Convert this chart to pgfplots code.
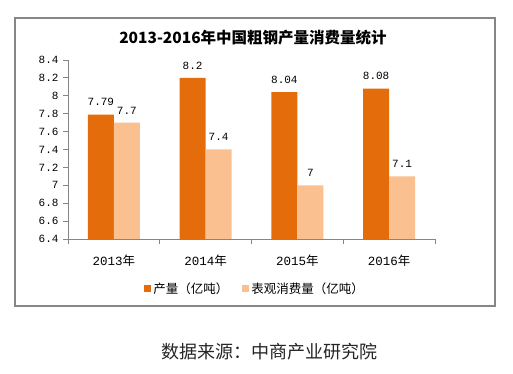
\documentclass[border=0pt]{standalone}
\usepackage{pgfplots}
\pgfplotsset{compat=1.18}
\usepackage{fontspec}
\setmainfont{Noto Sans CJK SC}
\newfontfamily\cjk{Noto Sans CJK SC}
\newfontfamily\num{Liberation Mono}
\definecolor{dark}{HTML}{E46C0A}
\definecolor{light}{HTML}{FAC090}
\definecolor{axgray}{HTML}{868686}
\begin{document}
\begin{tikzpicture}[x=1pt,y=1pt]
\useasboundingbox (0,0) rectangle (513,374);
\fill[white] (0,0) rectangle (513,374);
\node[font=\cjk\bfseries\fontsize{15.5}{15.5}\selectfont] at (253,336) {2013-2016年中国粗钢产量消费量统计};
\node[font=\cjk\fontsize{18}{18}\selectfont, text=black!85] at (269,22) {数据来源：中商产业研究院};
\begin{axis}[
  at={(68pt,135pt)}, anchor=south west,
  scale only axis, width=367pt, height=179pt,
  xmin=-0.5, xmax=3.5, ymin=6.4, ymax=8.4,
  ybar=0pt, bar width=26pt,
  axis x line*=bottom, axis y line*=left,
  axis line style={draw=axgray, line width=0.8pt},
  ytick={6.4,6.6,6.8,7,7.2,7.4,7.6,7.8,8,8.2,8.4},
  yticklabels={6.4,6.6,6.8,7,7.2,7.4,7.6,7.8,8,8.2,8.4},
  yticklabel style={font=\num\fontsize{11}{11}\selectfont, xshift=-1pt},
  xtick={0,1,2,3},
  xticklabels={{\num 2013\cjk 年},{\num 2014\cjk 年},{\num 2015\cjk 年},{\num 2016\cjk 年}},
  xticklabel style={font=\fontsize{12.5}{12.5}\selectfont, yshift=-7pt},
  minor xtick={-0.5,0.5,1.5,2.5,3.5},
  every major x tick/.append style={draw=none},
  every minor x tick/.append style={draw=axgray, line width=0.8pt},
  every major y tick/.append style={draw=axgray, line width=0.8pt},
  major tick length=5pt, minor tick length=5pt,
  tick align=outside,
  nodes near coords,
  /pgf/number format/assume math mode=true,
  every node near coord/.append style={font=\num\fontsize{11}{11}\selectfont, text=black, yshift=5pt},
  legend columns=2,
  legend style={at={(0.51,-0.279)}, anchor=center, draw=none, fill=none,
    font=\cjk\fontsize{12.5}{12.5}\selectfont, /tikz/every even column/.append style={column sep=12pt}},
  legend image code/.code={\fill[#1] (0pt,-3.5pt) rectangle (7pt,3.5pt);},
]
\addplot[fill=dark, draw=none] coordinates {(0,7.79) (1,8.2) (2,8.04) (3,8.08)};
\addplot[fill=light, draw=none] coordinates {(0,7.7) (1,7.4) (2,7) (3,7.1)};
\legend{产量（亿吨）,表观消费量（亿吨）}
\end{axis}
\draw[draw=axgray, line width=1.2pt] (15,68) rectangle (495,356);
\end{tikzpicture}
\end{document}
